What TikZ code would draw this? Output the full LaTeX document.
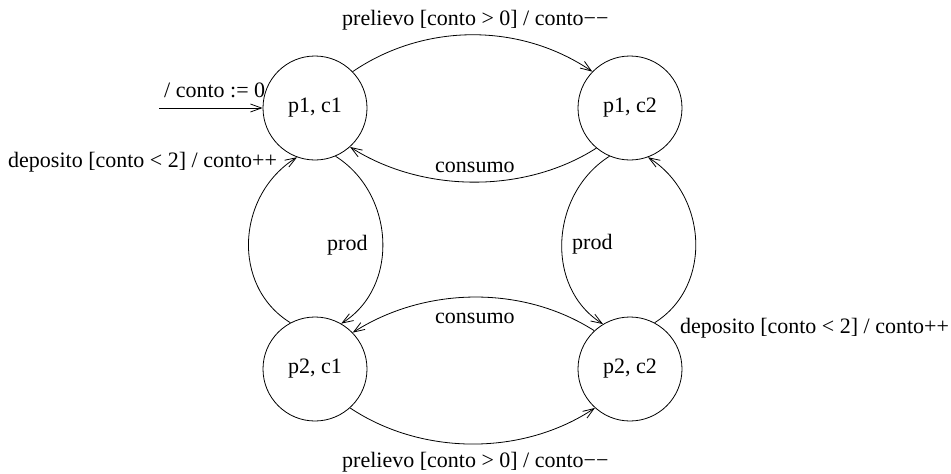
\documentclass[tikz,border=0pt]{standalone}
\usepackage{fontspec}
\setmainfont{Liberation Serif}
\usetikzlibrary{arrows.meta}
\tikzset{
  state/.style={draw, circle, minimum size=104pt, inner sep=0pt, line width=0.8pt, font=\fontsize{22}{26}\selectfont},
  lbl/.style={anchor=base west, inner sep=0pt, font=\fontsize{22}{26}\selectfont},
  conn/.style={line width=0.8pt, -{Straight Barb[length=11pt,width=8pt,line width=0.8pt]}}
}
\begin{document}
\begin{tikzpicture}[x=1pt,y=-1pt]
\useasboundingbox (0,0) rectangle (951,474);
\node[state] (a) at (315,108) {p1, c1};
\node[state] (b) at (630,108) {p1, c2};
\node[state] (c) at (315,369) {p2, c1};
\node[state] (d) at (630,369) {p2, c2};
\coordinate (init) at (159,108);

% initial
\draw[conn] (init) -- (a.west);
\node[lbl] (linit) at (164,97) {/ conto := 0};

% top prelievo
\draw[conn] (a.44) .. controls +(72,-49) and +(-72,-49) .. (b.136);
\node[lbl] (l1) at (342,25) {prelievo [conto > 0] / conto−−};

% top consumo
\draw[conn] (b.230) .. controls +(-72,46) and +(72,46) .. (a.312);
\node[lbl] (l2) at (435,172) {consumo};

% bottom consumo
\draw[conn] (d.133) .. controls +(-72,-46) and +(72,-46) .. (c.44);
\node[lbl] (l3) at (435,323) {consumo};

% bottom prelievo
\draw[conn] (c.312) .. controls +(72,48) and +(-72,48) .. (d.228);
\node[lbl] (l4) at (342,467) {prelievo [conto > 0] / conto−−};

% left prod
\draw[conn] (a.293) .. controls +(59,37) and +(59,-37) .. (c.60);
\node[lbl] (l5) at (327,250) {prod};

% left deposito
\draw[conn] (c.118) .. controls +(-60,-37) and +(-60,37) .. (a.250);
\node[lbl] (l6) at (8,167) {deposito [conto < 2] / conto++};

% right prod
\draw[conn] (b.247) .. controls +(-59,37) and +(-59,-37) .. (d.121);
\node[lbl] (l7) at (572,249) {prod};

% right deposito
\draw[conn] (d.62) .. controls +(59,-37) and +(59,37) .. (b.290);
\node[lbl] (l8) at (680,333) {deposito [conto < 2] / conto++};
\end{tikzpicture}
\end{document}
